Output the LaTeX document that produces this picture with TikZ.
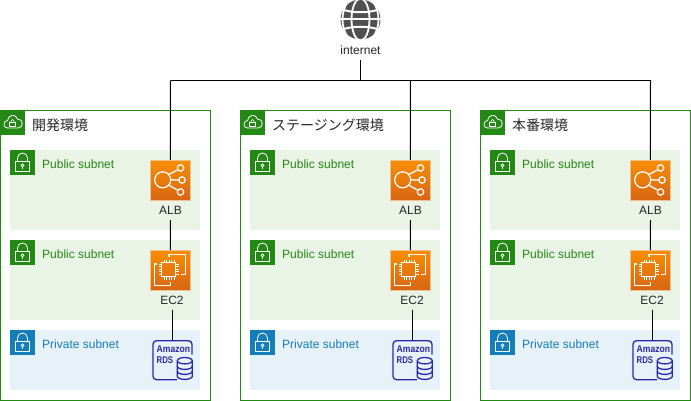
\documentclass[tikz,border=0pt]{standalone}
\usepackage{fontspec}
\setmainfont{Liberation Sans}
\newfontfamily\cjkfont{Noto Sans CJK JP}
\definecolor{awsgreen}{HTML}{248814}
\definecolor{awsblue}{HTML}{147EBA}
\definecolor{pubbg}{HTML}{E9F3E6}
\definecolor{privbg}{HTML}{E6F2F8}
\definecolor{rdsblue}{HTML}{2E27AD}
\definecolor{globegray}{HTML}{505050}
\definecolor{orangetop}{HTML}{F78E04}
\definecolor{orangebot}{HTML}{D86613}
\definecolor{orangeedge}{HTML}{F2BE8C}
\tikzset{
  envbox/.style={draw=awsgreen,line width=1pt,fill=white},
  pubsub/.style={fill=pubbg,draw=none},
  privsub/.style={fill=privbg,draw=none},
  awsicon/.style={draw=orangeedge,line width=.7pt,top color=orangetop,bottom color=orangebot,minimum size=40pt,inner sep=0pt,anchor=north west},
  glyph/.style={draw=white,line width=1.25pt,fill=none},
  lbl/.style={font=\fontsize{12}{14}\selectfont,text=black!85,inner sep=0pt,minimum height=20pt,anchor=center},
  subtitle/.style={font=\fontsize{12}{14}\selectfont,inner sep=0pt,anchor=west},
  envtitle/.style={font=\cjkfont\fontsize{14}{16}\selectfont,text=black!85,inner sep=0pt,anchor=west},
  wire/.style={draw=black,line width=1pt},
}
\newcommand{\lockicon}[3]{% x, y, colour
  \begin{scope}[shift={(#1,#2)}]
    \fill[#3] (0,0) rectangle (25,25);
    \draw[glyph,line width=.8pt] (5.5,11) rectangle (19.5,21.5);
    \draw[glyph,line width=.8pt] (7.5,11) -- (7.5,8) arc[start angle=180,end angle=360,radius=5] -- (17.5,11);
    \draw[glyph,line width=.8pt] (12.5,15.3) circle[radius=1.4];
    \draw[glyph,line width=.8pt] (12.5,16.7) -- (12.5,19);
  \end{scope}}
\begin{document}
\begin{tikzpicture}[x=1pt,y=-1pt]
\useasboundingbox (0,0) rectangle (691,401);
\fill[white] (0,0) rectangle (691,401);
% globe
\fill[globegray] (360.5,19.5) circle[radius=20];
\begin{scope}
  \clip (360.5,19.5) circle[radius=20.5];
  \draw[white,line width=2pt] (340,8.5) .. controls (350,13.5) and (371,13.5) .. (381,8.5);
  \draw[white,line width=2pt] (340,30.5) .. controls (350,25.5) and (371,25.5) .. (381,30.5);
  \draw[white,line width=2pt] (340,19.5) -- (381,19.5);
  \draw[white,line width=1.8pt] (360.5,19.5) ellipse[x radius=9,y radius=21];
  \draw[white,line width=1.8pt] (360.5,19.5) ellipse[x radius=18,y radius=25];
\end{scope}
\node[lbl] (inet) at (360.5,50) {internet};
\coordinate (hub) at (360.5,80.5);
\foreach \ox/\ttl/\idx in {0/開発環境/a,240/ステージング環境/b,480/本番環境/c}{
\begin{scope}[shift={(\ox,0)}]
  \draw[envbox] (0.5,110.5) rectangle (210.5,400.5);
  % env icon
  \fill[awsgreen] (0,110) rectangle (25,135);
  \draw[glyph,line width=.8pt] (7.5,128) .. controls (3,128) and (2.5,121) .. (7.5,120.5)
     .. controls (8,114.5) and (16,113.5) .. (17.5,119) .. controls (23.5,118.5) and (24,128) .. (18,128) -- cycle;
  \draw[glyph,line width=.7pt] (9.7,122.5) rectangle (15.3,126.2);
  \draw[glyph,line width=.7pt] (11,122.5) -- (11,121) arc[start angle=180,end angle=360,radius=1.5] -- (14,122.5);
  \node[envtitle] (title\idx) at (32,125) {\ttl};
  % subnets
  \fill[pubsub] (10,150) rectangle (200,230);
  \fill[pubsub] (10,240) rectangle (200,320);
  \fill[privsub] (10,330) rectangle (200,390);
  \lockicon{10}{150}{awsgreen}
  \lockicon{10}{240}{awsgreen}
  \lockicon{10}{330}{awsblue}
  \node[subtitle,text=awsgreen] (puba\idx) at (42,164) {Public subnet};
  \node[subtitle,text=awsgreen] (pubb\idx) at (42,254) {Public subnet};
  \node[subtitle,text=awsblue] (priv\idx) at (42,344) {Private subnet};
  % ALB
  \node[awsicon] (alb\idx) at (150,160) {};
  \begin{scope}[shift={(150,160)}]
    \draw[glyph] (12.7,19.8) circle[radius=8];
    \draw[glyph] (30.5,8) circle[radius=3.2];
    \draw[glyph] (32,20) circle[radius=3.2];
    \draw[glyph] (30.5,32) circle[radius=3.2];
    \draw[glyph] (18.5,14.5) -- (27.8,9.8);
    \draw[glyph] (20.7,19.8) -- (28.8,20);
    \draw[glyph] (18.5,25) -- (27.8,30.2);
  \end{scope}
  \node[lbl] (alblbl\idx) at (170.5,210) {ALB};
  % EC2
  \node[awsicon] (ec\idx) at (150,250) {};
  \begin{scope}[shift={(150,250)}]
    \draw[glyph] (11.5,12.5) rectangle (25.5,26.5);
    \foreach \t in {14,16.5,19,21.5,24}{
      \draw[glyph,line width=.8pt] (\t,9.5) -- (\t,12.5);
      \draw[glyph,line width=.8pt] (\t,26.5) -- (\t,29.5);
      \draw[glyph,line width=.8pt] (8.5,\t) -- (11.5,\t);
      \draw[glyph,line width=.8pt] (25.5,\t) -- (28.5,\t);
    }
    \draw[glyph] (19,7) -- (19,4.5) -- (35.5,4.5) -- (35.5,24.5) -- (31,24.5);
    \draw[glyph] (6.5,14) -- (4.5,14) -- (4.5,35.5) -- (20.5,35.5) -- (20.5,32);
  \end{scope}
  \node[lbl] (eclbl\idx) at (172,300) {EC2};
  % RDS
  \node[minimum width=40pt,minimum height=40pt,inner sep=0pt,anchor=north west] (rds\idx) at (152.6,340.5) {};
  \begin{scope}[shift={(153,340.7)}]
    \draw[rdsblue,line width=1.3pt,rounded corners=3.5pt] (24,39) -- (0,39) -- (0,0) -- (39,0) -- (39,14);
    \node[font=\fontsize{9.8}{10}\selectfont\bfseries,text=rdsblue,inner sep=0pt,anchor=west,xscale=.88] (rdsa\idx) at (3.5,8.5) {Amazon};
    \node[font=\fontsize{9.8}{10}\selectfont\bfseries,text=rdsblue,inner sep=0pt,anchor=west,xscale=.8] (rdsb\idx) at (3.5,19.5) {RDS};
    \draw[rdsblue,line width=1.3pt] (24.3,20.5) -- (24.3,35.5) arc[start angle=180,end angle=0,x radius=7.5,y radius=3.2] -- (39.3,20.5);
    \draw[rdsblue,line width=1.3pt] (31.8,20) ellipse[x radius=7.5,y radius=3.2];
    \draw[rdsblue,line width=1.3pt] (24.3,25.5) arc[start angle=180,end angle=0,x radius=7.5,y radius=3.2];
    \draw[rdsblue,line width=1.3pt] (24.3,30.5) arc[start angle=180,end angle=0,x radius=7.5,y radius=3.2];
  \end{scope}
  \coordinate (bus\idx) at (170.5,80.5);
  \coordinate (wirerdstop\idx) at (172.5,340.5);
  \coordinate (wirelblec\idx) at (172.5,310);
\end{scope}
}
% connectors
\draw[wire] (inet.south) -- (hub);
\draw[wire] (busa) -- (busc);
\foreach \idx in {a,b,c}{
  \draw[wire] (bus\idx) -- (alb\idx.north);
  \draw[wire] (alblbl\idx.south) -- (ec\idx.north);
  \draw[wire] (wirelblec\idx) -- (wirerdstop\idx);
}
\end{tikzpicture}
\end{document}
